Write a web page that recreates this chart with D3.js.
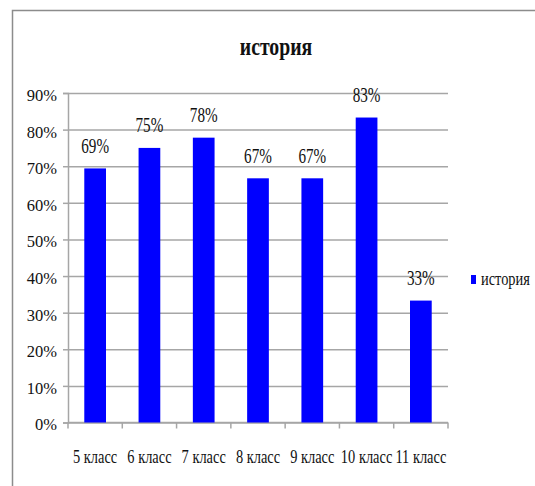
<!DOCTYPE html>
<html>
<head>
<meta charset="utf-8">
<script src="https://cdn.jsdelivr.net/npm/d3@7"></script>
</head>
<body style="margin:0; background:#fff">
<div id="chart"></div>
<script>
var categories = ['5 класс', '6 класс', '7 класс', '8 класс', '9 класс', '10 класс', '11 класс']
var values = [0.694, 0.75, 0.778, 0.667, 0.667, 0.833, 0.333]
var yTicks = [0, 0.1, 0.2, 0.3, 0.4, 0.5, 0.6, 0.7, 0.8, 0.9]
var seriesName = 'история'

var width = 535
var height = 486
var plotL = 68, plotR = 448, plotT = 93, plotB = 422.5
var blue = '#0000ff'
var grid = '#a6a6a6'
var font = 'Liberation Serif'
var ink = '#111'
var pct = d3.format('.0%')

var svg = d3.select('#chart')
  .append('svg')
    .attr('width', width)
    .attr('height', height)
    .attr('font-family', font)

// outer frame, runs off the right and bottom edge
svg.append('rect')
  .attr('x', 12.5).attr('y', 10.5)
  .attr('width', 600).attr('height', 600)
  .attr('fill', 'none')
  .attr('stroke', '#8c8c8c')
  .attr('stroke-width', 1.5)

var x = d3.scaleBand()
  .domain(categories)
  .range([plotL, plotR])
  .padding(0)

var y = d3.scaleLinear()
  .domain([0, 0.9])
  .range([plotB, plotT])

// gridlines
svg.append('g')
  .attr('transform', 'translate(' + plotL + ',0)')
  .call(d3.axisLeft(y).tickValues(yTicks).tickSize(-(plotR - plotL)).tickFormat(''))
  .call(function(g) {
    g.select('.domain').remove()
    g.selectAll('line').attr('stroke', grid).attr('stroke-width', 1.5)
  })

// y axis
svg.append('g')
  .attr('transform', 'translate(' + plotL + ',0)')
  .call(d3.axisLeft(y).tickValues(yTicks).tickSize(5).tickPadding(6).tickFormat(pct))
  .call(function(g) {
    g.attr('font-family', font).attr('font-size', 16.5)
    g.select('.domain').attr('stroke', grid).attr('stroke-width', 1.5)
    g.selectAll('line').attr('stroke', grid).attr('stroke-width', 1.5)
    g.selectAll('text')
      .attr('dy', '0.45em')
      .attr('font-family', font)
      .attr('fill', ink)
  })

// x axis line and boundary ticks
svg.append('line')
  .attr('x1', plotL).attr('x2', plotR)
  .attr('y1', plotB).attr('y2', plotB)
  .attr('stroke', grid).attr('stroke-width', 1.5)

var bounds = categories.map(function(c) { return x(c) }).concat([x.range()[1]])
svg.selectAll('.xtick')
  .data(bounds)
  .enter().append('line')
    .attr('class', 'xtick')
    .attr('x1', function(d) { return d }).attr('x2', function(d) { return d })
    .attr('y1', plotB).attr('y2', plotB + 6)
    .attr('stroke', grid).attr('stroke-width', 1.5)

// bars
var barW = x.bandwidth() * 0.4
svg.selectAll('.bar')
  .data(values)
  .enter().append('rect')
    .attr('class', 'bar')
    .attr('x', function(d, i) { return x(categories[i]) + (x.bandwidth() - barW) / 2 })
    .attr('y', function(d) { return y(d) })
    .attr('width', barW)
    .attr('height', function(d) { return plotB - y(d) })
    .attr('fill', blue)

// value labels
svg.selectAll('.vlabel')
  .data(values)
  .enter().append('text')
    .attr('class', 'vlabel')
    .attr('transform', function(d, i) {
      return 'translate(' + (x(categories[i]) + x.bandwidth() / 2) + ',' + (y(d) - 15.5) + ') scale(0.74,1)'
    })
    .attr('text-anchor', 'middle')
    .attr('font-family', font)
    .attr('font-size', 20.5)
    .attr('fill', ink)
    .text(function(d) { return pct(d) })

// category labels
svg.selectAll('.xlabel')
  .data(categories)
  .enter().append('text')
    .attr('class', 'xlabel')
    .attr('transform', function(d) {
      return 'translate(' + (x(d) + x.bandwidth() / 2) + ',463) scale(0.74,1)'
    })
    .attr('text-anchor', 'middle')
    .attr('font-family', font)
    .attr('font-size', 19.5)
    .attr('fill', ink)
    .text(function(d) { return d })

// title
svg.append('text')
  .attr('transform', 'translate(276,55) scale(0.76,1)')
  .attr('text-anchor', 'middle')
  .attr('font-family', font)
  .attr('font-size', 26)
  .attr('font-weight', 'bold')
  .attr('fill', ink)
  .text(seriesName)

// legend
var legend = svg.append('g').attr('transform', 'translate(471,275)')
legend.append('rect')
  .attr('width', 5).attr('height', 9)
  .attr('fill', blue)
legend.append('text')
  .attr('transform', 'translate(10,9.5) scale(0.8,1)')
  .attr('font-family', font)
  .attr('font-size', 18)
  .attr('fill', ink)
  .text(seriesName)
</script>
</body>
</html>
